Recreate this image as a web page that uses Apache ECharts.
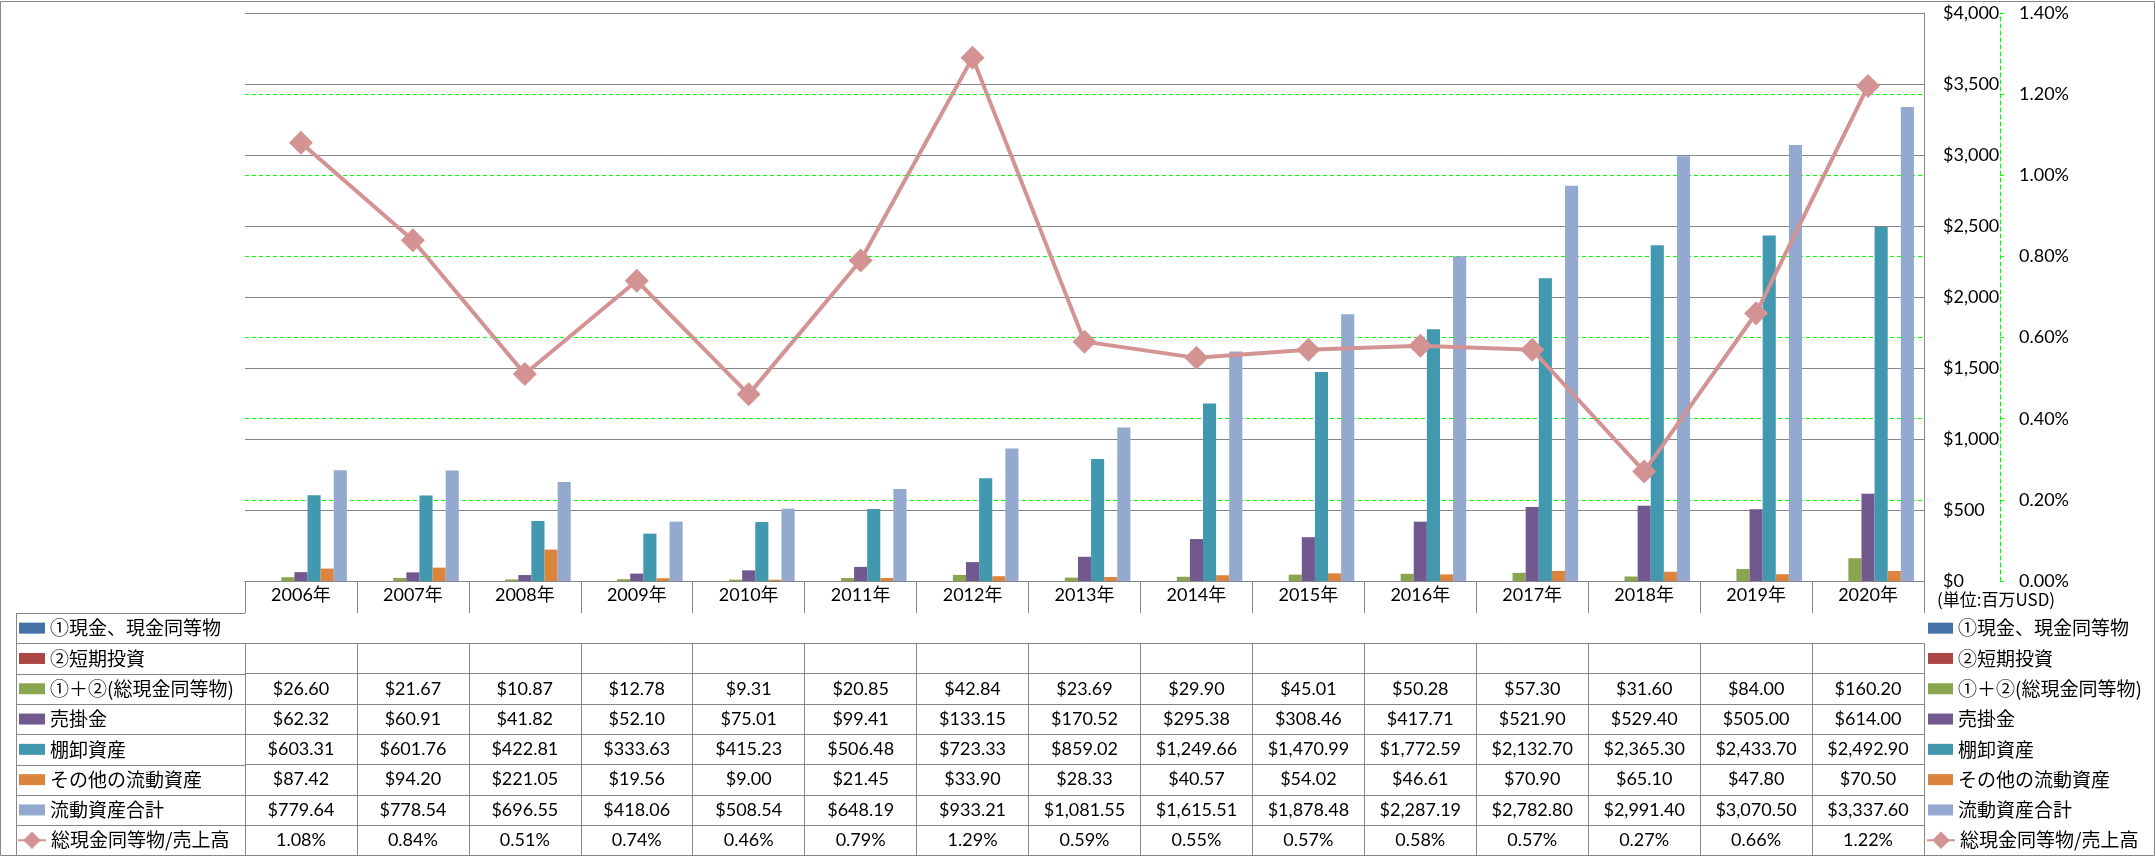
<!DOCTYPE html>
<html><head><meta charset="utf-8">
<script src="https://cdn.jsdelivr.net/npm/echarts@6/dist/echarts.min.js"></script>
<style>html,body{margin:0;padding:0;background:#fff}#c{width:2156px;height:858px}</style>
</head><body><div id="c"></div>
<script>
// ---- data ----
const years = ['2006年','2007年','2008年','2009年','2010年','2011年','2012年','2013年','2014年','2015年','2016年','2017年','2018年','2019年','2020年'];
const seriesNames = ['①現金、現金同等物','②短期投資','①＋②(総現金同等物)','売掛金','棚卸資産','その他の流動資産','流動資産合計','総現金同等物/売上高'];
const cash = [];
const shortInvest = [];
const cashTotal = [26.60,21.67,10.87,12.78,9.31,20.85,42.84,23.69,29.90,45.01,50.28,57.30,31.60,84.00,160.20];
const receivables = [62.32,60.91,41.82,52.10,75.01,99.41,133.15,170.52,295.38,308.46,417.71,521.90,529.40,505.00,614.00];
const inventory = [603.31,601.76,422.81,333.63,415.23,506.48,723.33,859.02,1249.66,1470.99,1772.59,2132.70,2365.30,2433.70,2492.90];
const otherCurrent = [87.42,94.20,221.05,19.56,9.00,21.45,33.90,28.33,40.57,54.02,46.61,70.90,65.10,47.80,70.50];
const currentTotal = [779.64,778.54,696.55,418.06,508.54,648.19,933.21,1081.55,1615.51,1878.48,2287.19,2782.80,2991.40,3070.50,3337.60];
const cashToSales = [1.08,0.84,0.51,0.74,0.46,0.79,1.29,0.59,0.55,0.57,0.58,0.57,0.27,0.66,1.22];
const unitLabel = '(単位:百万USD)';

// ---- style ----
const colors = ['#4572A7','#AA4643','#89A54E','#71588F','#4198AF','#DB843D','#93A9CF','#D49393'];
const GREY = '#868686';
const GREEN = '#00FF00';
const NUMFONT = "Lato, 'Noto Sans CJK JP', sans-serif";
const CJKFONT = "'Noto Sans CJK JP', sans-serif";
const GRID_TOP = 13, GRID_BOTTOM_Y = 581, GRID_LEFT = 245, GRID_RIGHT_X = 1924;
const HEAD_H = 32, ROW_H = 30.3;
const TABLE_LEFT = 16;

const money = v => (v === undefined || v === null) ? '' : '$' + v.toLocaleString('en-US',{minimumFractionDigits:2, maximumFractionDigits:2});
const pct = v => v.toFixed(2) + '%';
const barData = [cash, shortInvest, cashTotal, receivables, inventory, otherCurrent, currentTotal];
const rowTexts = barData.map(arr => years.map((y,i) => money(arr[i])));
rowTexts.push(cashToSales.map(pct));

// ---- axes ----
const xAxes = [{
  type:'category', data: years, gridIndex:0, position:'bottom', boundaryGap:true,
  axisLine:{show:true, lineStyle:{color:GREY, width:1}},
  axisTick:{show:true, length:HEAD_H, interval:0, lineStyle:{color:GREY}},
  axisLabel:{interval:0, margin:(HEAD_H-18)/2 - 2, fontSize:18, lineHeight:18, color:'#000', fontFamily:NUMFONT},
  splitLine:{show:false}
}];
rowTexts.forEach((texts, r) => {
  xAxes.push({
    type:'category', data: years, gridIndex:0, position:'bottom', boundaryGap:true,
    offset: HEAD_H + r*ROW_H,
    axisLine:{show:true, lineStyle:{color:GREY, width:1}},
    axisTick:{show:true, length:ROW_H, interval:0, lineStyle:{color:GREY}},
    axisLabel:{interval:0, margin:(ROW_H-18)/2, fontSize:18, lineHeight:18, color:'#000', fontFamily:NUMFONT,
      formatter:(v, idx) => texts[idx]},
    splitLine:{show:false}
  });
});
xAxes.push({
  type:'category', data: years, gridIndex:0, position:'bottom', boundaryGap:true,
  offset: HEAD_H + rowTexts.length*ROW_H,
  axisLine:{show:true, lineStyle:{color:GREY, width:1}},
  axisTick:{show:false}, axisLabel:{show:false}, splitLine:{show:false}
});

const yAxes = [{
  type:'value', position:'right', min:0, max:4000, interval:500,
  axisLine:{show:true, lineStyle:{color:GREY, width:1}},
  axisTick:{show:false},
  axisLabel:{margin:19, fontSize:18, color:'#000', fontFamily:NUMFONT,
    formatter: v => '$' + v.toLocaleString('en-US')},
  splitLine:{show:true, lineStyle:{color:GREY, width:1}}
},{
  type:'value', position:'right', offset:76, min:0, max:1.4, interval:0.2,
  axisLine:{show:true, lineStyle:{color:GREEN, width:1, type:[4,3]}},
  axisTick:{show:true, length:4, lineStyle:{color:GREEN, width:1}},
  axisLabel:{margin:19, fontSize:18, color:'#000', fontFamily:NUMFONT, formatter: v => v.toFixed(2) + '%'},
  splitLine:{show:true, showMinLine:false, showMaxLine:false, lineStyle:{color:GREEN, width:1, type:[4,3]}}
}];

// ---- series ----
const series = barData.map((arr, i) => ({
  name: seriesNames[i], type:'bar', xAxisIndex:0, yAxisIndex:0,
  data: arr, barGap:'0%', barCategoryGap:'18%',
  itemStyle:{color: colors[i]}
}));
series.push({
  name: seriesNames[7], type:'line', xAxisIndex:0, yAxisIndex:1,
  data: cashToSales, symbol:'diamond', symbolSize:24, showSymbol:true,
  lineStyle:{color: colors[7], width:4},
  itemStyle:{color: colors[7]},
  z: 5
});

// ---- legends (left label column and right side) ----
const barNames = seriesNames.slice(0,7);
const lineNames = [seriesNames[7]];
const legTop = GRID_BOTTOM_Y + HEAD_H;
const legText = {fontSize:19, lineHeight:ROW_H, color:'#000', fontFamily:CJKFONT};
const legBase = {orient:'vertical', padding:0, itemGap:0, selectedMode:false, textStyle:legText};
const legends = [
  Object.assign({}, legBase, {left:19, top:legTop, itemWidth:26, itemHeight:11, icon:'rect', data:barNames}),
  Object.assign({}, legBase, {left:17, top:legTop + 7*ROW_H, itemWidth:28, itemHeight:22, data:lineNames}),
  Object.assign({}, legBase, {left:1928, top:legTop, itemWidth:25, itemHeight:11, icon:'rect', data:barNames}),
  Object.assign({}, legBase, {left:1926, top:legTop + 7*ROW_H, itemWidth:28, itemHeight:22, data:lineNames})
];

// ---- table lines for the label column, frame, unit text ----
const graphics = [];
const nLines = rowTexts.length + 1;
for (let k = 0; k < nLines; k++) {
  const y = Math.round(legTop + k*ROW_H) + 0.5;
  graphics.push({type:'line', silent:true, shape:{x1:TABLE_LEFT, y1:y, x2:GRID_LEFT, y2:y}, style:{stroke:GREY, lineWidth:1}});
}
graphics.push({type:'line', silent:true, shape:{x1:TABLE_LEFT+0.5, y1:legTop, x2:TABLE_LEFT+0.5, y2:Math.round(legTop + rowTexts.length*ROW_H)+0.5}, style:{stroke:GREY, lineWidth:1}});
graphics.push({type:'rect', silent:true, shape:{x:0.5, y:1.5, width:2154, height:854}, style:{fill:'none', stroke:GREY, lineWidth:1}});
graphics.push({type:'text', silent:true, left:1937, top:591, style:{text:unitLabel, fontSize:17, fontFamily:CJKFONT, fill:'#000'}});

const chart = echarts.init(document.getElementById('c'), null, {renderer:'canvas'});
chart.setOption({
  animation:false,
  backgroundColor:'#fff',
  grid:{left:GRID_LEFT, top:GRID_TOP, right:2156-GRID_RIGHT_X, bottom:858-GRID_BOTTOM_Y, containLabel:false, outerBoundsMode:'none'},
  xAxis: xAxes,
  yAxis: yAxes,
  legend: legends,
  series: series,
  graphic: graphics
});
</script></body></html>
